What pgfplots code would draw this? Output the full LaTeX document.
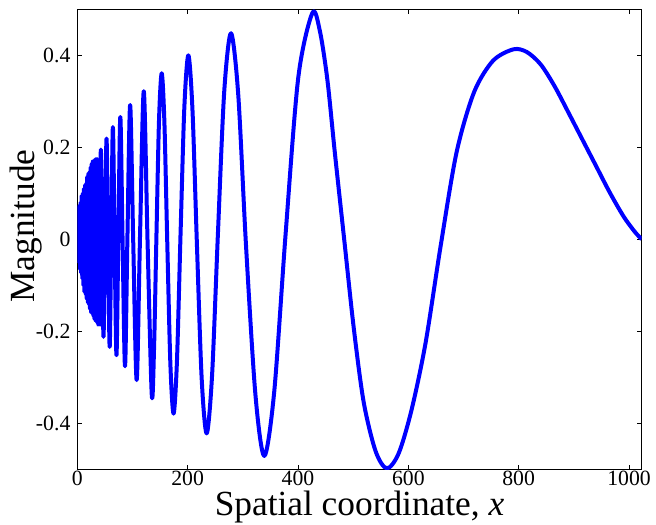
\documentclass[border=0pt]{standalone}
\usepackage{fontspec}
\setmainfont{Liberation Serif}
\usepackage{pgfplots}
\pgfplotsset{compat=1.18}
\begin{document}
\begin{tikzpicture}
\begin{axis}[
 scale only axis, width=423.3pt, height=345pt,
 xmin=0, xmax=1023, ymin=-0.5, ymax=0.5,
 xtick={0,200,400,600,800,1000}, ytick={-0.4,-0.2,0,0.2,0.4},
 tick align=inside, major tick length=3.5pt,
 axis line style={line width=0.75pt},
 tick style={line width=0.6pt, black},
 /pgf/number format/assume math mode=true,
 /pgf/number format/1000 sep={},
 tick label style={font=\fontsize{16.3}{18}\selectfont},
 xticklabel style={inner sep=0pt, anchor=north, yshift=-1pt},
 yticklabel style={inner sep=0pt, anchor=east, xshift=-5pt},
 xlabel={Spatial coordinate, \textit{x}},
 ylabel={Magnitude},
 label style={font=\fontsize{26.5}{30}\selectfont},
 xlabel style={at={(rel axis cs:0.5,0)}, anchor=base, yshift=-35pt, inner sep=0pt},
 ylabel style={at={(rel axis cs:-0.0912,0.529)}, anchor=center, inner sep=0pt},
]
\addplot[blue, line width=3pt, line join=round, no markers] coordinates {
(0,0.049)(1,-0.02)(2,0.06)(3,-0.05)(4,0.074)(5,-0.065)(6,0.08)(7,-0.073)(8,0.095)(9,-0.085)
(10,0.10)(11,-0.10)(12,0.11)(13,-0.114)(14,0.118)(15,-0.118)(16,0.12)(17,-0.128)(18,0.135)(19,-0.136)
(20,0.142)(21,-0.14)(22,0.145)(23,-0.15)(24,0.155)(25,-0.158)(26,0.163)(27,-0.16)(28,0.169)(29,-0.165)
(30,0.17)(31,-0.172)(32,0.172)(33,-0.176)(34,0.174)(35,-0.178)(36,0.174)(37,-0.182)(38,0.17)(39.3,-0.189)
};
\addplot[blue, line width=3pt, line join=round, smooth, no markers] coordinates {
(39.3,-0.189)(40.94,0.003)(42.7,0.195)(45.0,-0.0085)(47.5,-0.212)(50.1,0.0035)(53.0,0.219)(55.7,-0.0075)
(58.7,-0.234)(61.5,0.005)(64.5,0.244)(67.6,-0.004)(71.0,-0.252)(74.4,0.007)(78.0,0.266)(82.1,-0.005)
(86.5,-0.276)(90.9,0.008)(95.8,0.292)(101.4,-0.007)(107.6,-0.306)(113.7,0.008)(120.5,0.322)(127.4,-0.0085)
(135.0,-0.339)(139.1,-0.2368)(143.5,0.011)(148.1,0.2588)(153.0,0.361)(157.9,0.253)(163.1,-0.009)(168.7,-0.271)
(174.5,-0.379)(180.6,-0.2653)(187.1,0.0105)(194.0,0.2863)(201.3,0.400)(208.8,0.28)(216.8,-0.011)(225.4,-0.302)
(234.5,-0.422)(244.3,-0.295)(254.9,0.013)(266.3,0.321)(278.6,0.448)(291.75,0.3138)(305.7,-0.0115)(322.8,-0.337)
(339.0,-0.471)(357.0,-0.3304)(377.5,0.0105)(400.5,0.3514)(426.0,0.492)(439.4,0.4544)(453.2,0.3475)(467,0.186)
(484,-0.003)(501,-0.192)(519,-0.3535)(540.6,-0.4604)(561,-0.498)(582.6,-0.465)(606,-0.37)(631.3,-0.225)
(658.5,-0.015)(687.6,0.19)(719.2,0.32)(753.4,0.388)(790.5,0.413)(815,0.407)(840,0.380)(865,0.333)
(890,0.276)(915,0.218)(940,0.160)(965,0.102)(990,0.050)(1010,0.017)(1023,0)
};
\end{axis}
\pgfresetboundingbox
\path ([xshift=-57.98pt,yshift=-41.03pt]current axis.south west) rectangle ([xshift=10.73pt,yshift=6.98pt]current axis.north east);
\end{tikzpicture}
\end{document}
